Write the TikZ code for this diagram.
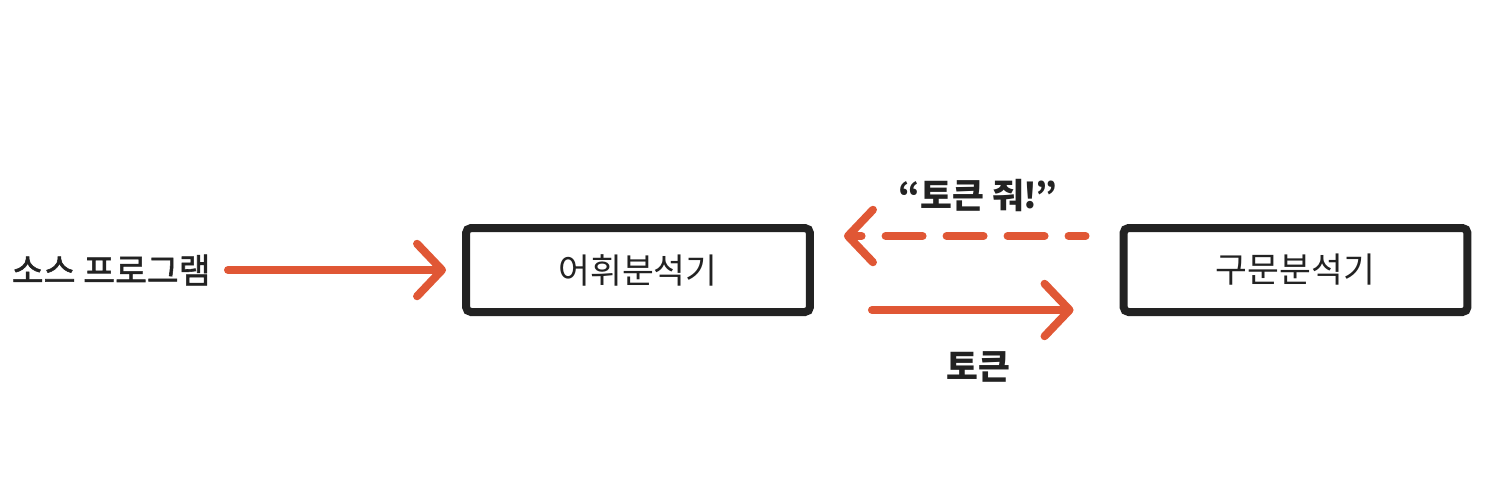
\documentclass[tikz,border=0pt]{standalone}
\usepackage{fontspec}
\setmainfont{Noto Sans CJK KR}
\newfontfamily\srcfont[FakeBold=1.6]{Noto Sans CJK KR}
\usetikzlibrary{arrows.meta,positioning}
\definecolor{arroworange}{RGB}{224,87,53}
\definecolor{inkdark}{RGB}{34,34,34}

\begin{document}
\begin{tikzpicture}[
        x=0.02cm, y=-0.02cm,
        box/.style={rectangle, rounded corners=0.1cm, draw=inkdark, line width=0.16cm,
            minimum width=6.88cm, minimum height=1.68cm, inner sep=0pt,
            text=inkdark, font=\fontsize{19.7}{23}\selectfont},
        label/.style={inner sep=0pt, text=inkdark, font=\fontsize{19.7}{23}\selectfont\bfseries},
        flow/.style={-{Straight Barb[round, length=0.5cm, width=1.05cm]}, line width=0.16cm,
            arroworange, line cap=round}
    ]
        \useasboundingbox (0,0) rectangle (1500,498);

        \node[box] (lex) at (638,270) {어휘분석기};
        \node[box] (syn) at (1295.5,270) {구문분석기};
        \node[label, font=\fontsize{19.7}{23}\selectfont\srcfont, anchor=east] (src) at (211,270) {소스 프로그램};
        \node[label] (req) at (978,196) {“토큰 줘!”};
        \node[label] (tok) at (978,367) {토큰};

        \draw[flow, shorten <=0.34cm, shorten >=0.32cm] (src.east) -- (lex.west);
        \draw[flow, dash pattern=on 0.74cm off 0.48cm, dash phase=0.4cm,
            shorten <=0.68cm, shorten >=0.6cm] ([yshift=0.68cm]syn.west) -- ([yshift=0.68cm]lex.east);
        \draw[flow, shorten <=1.16cm, shorten >=0.92cm] ([yshift=-0.8cm]lex.east) -- ([yshift=-0.8cm]syn.west);
    \end{tikzpicture}
\end{document}
